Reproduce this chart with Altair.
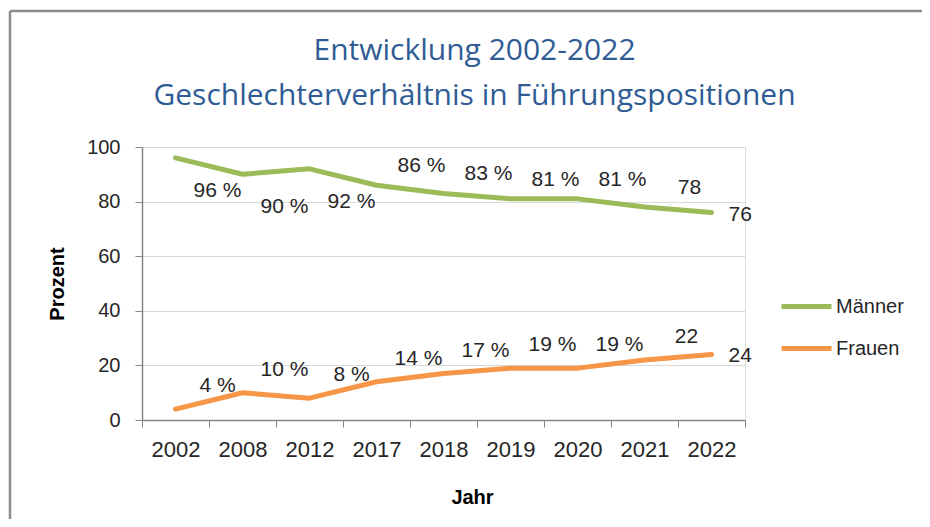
import altair as alt
import pandas as pd

# ---- data ----
jahre = ["2002", "2008", "2012", "2017", "2018", "2019", "2020", "2021", "2022"]
maenner = [96, 90, 92, 86, 83, 81, 81, 78, 76]
frauen = [4, 10, 8, 14, 17, 19, 19, 22, 24]
maenner_labels = ["96 %", "90 %", "92 %", "86 %", "83 %", "81 %", "81 %", "78", "76"]
frauen_labels = ["4 %", "10 %", "8 %", "14 %", "17 %", "19 %", "19 %", "22", "24"]
# label placement category (like Excel's label position)
maenner_lage = ["unten", "unten", "unten", "oben", "oben", "oben", "oben", "oben", "rechts"]
frauen_lage = ["oben", "oben", "oben", "oben", "oben", "oben", "oben", "oben", "rechts"]
gruppen = ["Männer", "Frauen"]
farben = ["#9BBB59", "#F79646"]
y_ticks = [0, 20, 40, 60, 80, 100]

rows = []
for i, j in enumerate(jahre):
    rows.append({"Jahr": j, "Gruppe": "Männer", "Prozent": maenner[i],
                 "Label": maenner_labels[i], "Lage": maenner_lage[i]})
for i, j in enumerate(jahre):
    rows.append({"Jahr": j, "Gruppe": "Frauen", "Prozent": frauen[i],
                 "Label": frauen_labels[i], "Lage": frauen_lage[i]})
df = pd.DataFrame(rows)

FONT = "Liberation Sans"
TXT = "#262626"
AXIS_COL = "#868686"

W, H = 603, 273
PAD = {"left": 134, "top": 139, "right": 177, "bottom": 99}

x_enc = alt.X(
    "Jahr:N", sort=jahre, bandPosition=0.5,
    scale=alt.Scale(type="band", paddingInner=0, paddingOuter=0),
    axis=alt.Axis(
        title="Jahr", labelAngle=0, tickBand="extent", grid=False,
        labelFontSize=22, labelPadding=12, labelColor=TXT,
        domainColor=AXIS_COL, tickColor=AXIS_COL, tickSize=7, domainWidth=1.5,
        titleFontSize=20, titleFontWeight="bold", titleColor="#000000",
        titlePadding=27, titleX=330,
    ),
)
y_enc = alt.Y(
    "Prozent:Q",
    scale=alt.Scale(domain=[0, 100], nice=False),
    axis=alt.Axis(
        title="Prozent", values=y_ticks, grid=True, gridColor="#d9d9d9",
        labelFontSize=20, labelPadding=15, labelColor=TXT,
        domainColor=AXIS_COL, tickColor=AXIS_COL, tickSize=7, domainWidth=1.5,
        titleFontSize=20, titleFontWeight="bold", titleColor="#000000",
        titlePadding=19,
    ),
)
color_enc = alt.Color(
    "Gruppe:N",
    scale=alt.Scale(domain=gruppen, range=farben),
    legend=alt.Legend(
        title=None, orient="none", legendX=637, legendY=132,
        symbolType="stroke", symbolSize=2500, symbolStrokeWidth=5,
        labelFontSize=20, labelFont=FONT, labelColor=TXT, labelOffset=2,
        rowPadding=4, padding=0,
    ),
)

lines = alt.Chart(df).mark_line(
    strokeWidth=5, strokeCap="round", strokeJoin="round"
).encode(x=x_enc, y=y_enc, color=color_enc, detail="Gruppe:N")


def labels(filter_expr, **mark_kw):
    return (
        alt.Chart(df)
        .transform_filter(filter_expr)
        .mark_text(font=FONT, fontSize=21, color=TXT, baseline="middle", **mark_kw)
        .encode(x=x_enc, y=y_enc, text="Label:N")
    )


lab_m_unten = labels("datum.Gruppe === 'Männer' && datum.Lage === 'unten'", dx=42, dy=33)
lab_m_oben = labels("datum.Gruppe === 'Männer' && datum.Lage === 'oben'", dx=45, dy=-19)
lab_f_oben = labels("datum.Gruppe === 'Frauen' && datum.Lage === 'oben'", dx=42, dy=-23)
lab_rechts = labels("datum.Lage === 'rechts'", dx=17, dy=2, align="left")

# outer frame of the chart (decoration)
frame_data = alt.Data(values=[{"f": 1}])
frame_top = alt.Chart(frame_data).mark_rule(color="#8c8c8c", strokeWidth=2.5).encode(
    x=alt.value(-132), x2=alt.value(W + PAD["right"]),
    y=alt.value(-136), y2=alt.value(-136),
)
frame_left = alt.Chart(frame_data).mark_rule(color="#8c8c8c", strokeWidth=2.5).encode(
    x=alt.value(-132), x2=alt.value(-132),
    y=alt.value(-136), y2=alt.value(H + PAD["bottom"]),
)

chart = (
    alt.layer(frame_top, frame_left, lines, lab_m_unten, lab_m_oben, lab_f_oben, lab_rechts)
    .properties(
        width=W, height=H, padding=PAD,
        autosize=alt.AutoSizeParams(type="none"),
        title=alt.TitleParams(
            text=["Entwicklung 2002-2022", "Geschlechterverhältnis in Führungspositionen"],
            font="Open Sans", fontSize=30, fontWeight="normal", color="#2F5C95",
            anchor="middle", dx=31, lineHeight=45, offset=-101,
        ),
    )
    .configure_view(stroke=None)
    .configure_axis(labelFont=FONT, titleFont=FONT)
    .configure(background="white")
)

chart.save("out.html", embed_options={"renderer": "svg", "actions": False})
